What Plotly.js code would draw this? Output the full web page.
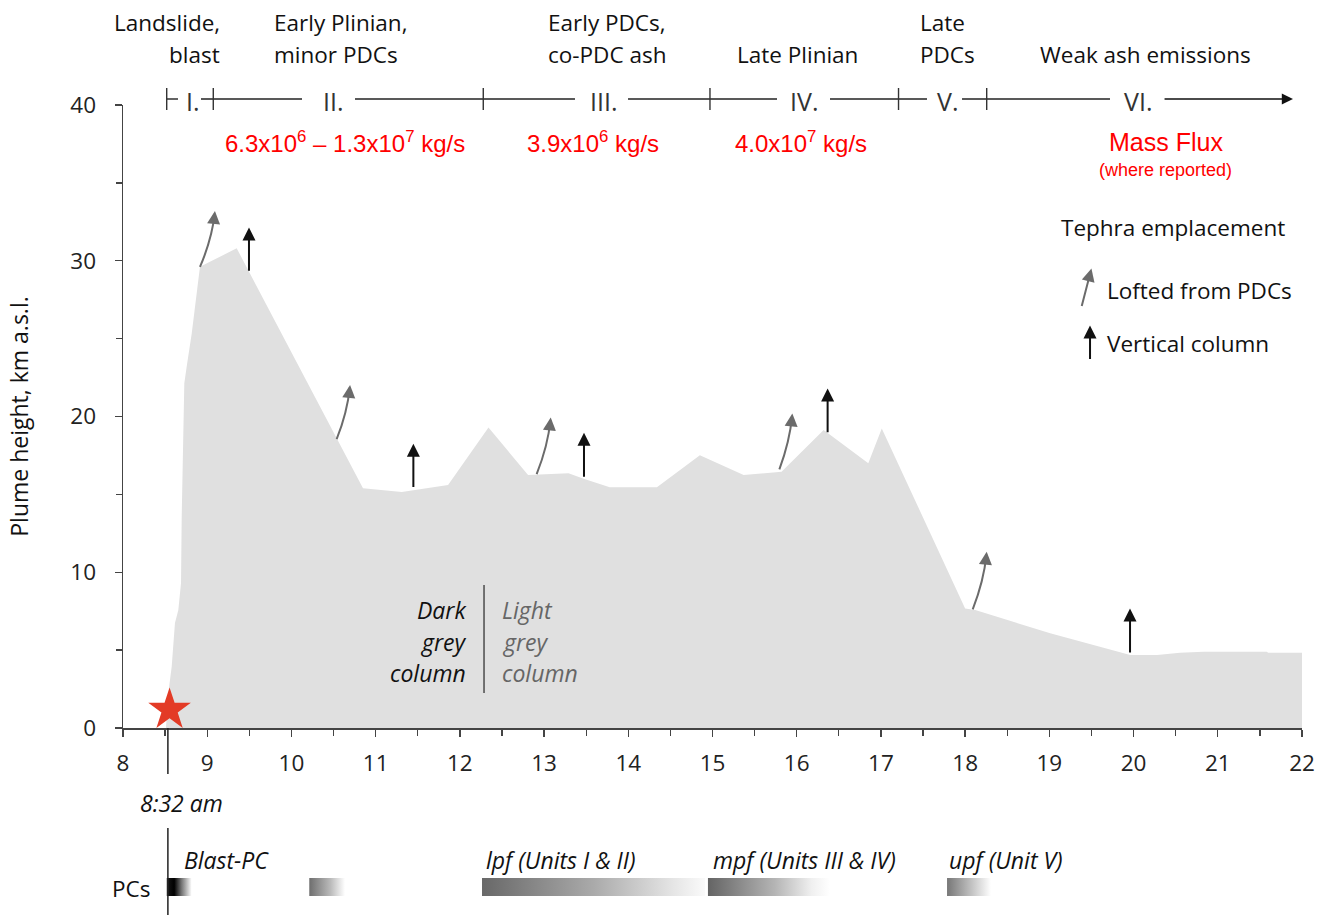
<!DOCTYPE html>
<html><head><meta charset="utf-8">
<script src="https://cdn.plot.ly/plotly-3.0.1.min.js"></script>
<style>body{margin:0;background:#fff}#chart{width:1325px;height:915px}</style>
</head><body><div id="chart"></div>
<script>
// ---- plume height profile (hours of day, km a.s.l.) ----
const profileHours   = [8.51, 8.538, 8.578, 8.617, 8.657, 8.689, 8.697, 8.716, 8.728, 8.756, 8.816, 8.914, 9.35, 10.85, 11.31, 11.86, 12.34, 12.81, 13.29, 13.47, 13.78, 14.34, 14.85, 15.37, 15.82, 16.32, 16.85, 17.01, 18.00, 18.12, 19.01, 19.96, 20.28, 20.55, 20.83, 21.58, 21.60, 22.00];
const profileHeights = [0.0, 2.25, 3.93, 6.74, 7.57, 9.31, 13.56, 17.84, 22.14, 23.19, 25.33, 29.61, 30.8, 15.4, 15.15, 15.6, 19.3, 16.24, 16.35, 16.0, 15.45, 15.45, 17.52, 16.24, 16.45, 19.13, 17.0, 19.23, 7.68, 7.57, 6.08, 4.69, 4.69, 4.83, 4.9, 4.9, 4.83, 4.83];
const ventHour = 8.533;          // 8:32 am
const ventMarkerHeight = 1.17;

// ---- axes ----
const xTickValues = [8,9,10,11,12,13,14,15,16,17,18,19,20,21,22];
const yTickValues = [0,10,20,30,40];

// ---- eruption phases ----
const phaseBoundaryHours = [8.519, 9.072, 12.278, 14.970, 17.209, 18.256];
const phaseNumerals      = ['I.', 'II.', 'III.', 'IV.', 'V.', 'VI.'];
const phaseNumeralHours  = [8.837, 10.494, 13.712, 16.087, 17.785, 20.053];
const phaseSegStart      = [8.519, 8.926, 10.755, 13.997, 16.395, 17.963];
const phaseSegEnd        = [8.653, 10.126, 13.367, 15.766, 17.547, 19.720];
const phaseArrowStart = 20.350, phaseArrowEnd = 21.893;
const phaseTitleLine1 = ['Landslide,', 'Early Plinian,', 'Early PDCs,', '', 'Late', ''];
const phaseTitleLine2 = ['blast', 'minor PDCs', 'co-PDC ash', 'Late Plinian', 'PDCs', 'Weak ash emissions'];
const phaseTitleHours = [9.176, 9.769, 13.023, 16.015, 17.440, 20.136];
const phaseTitleAnchor = ['right', 'left', 'left', 'center', 'left', 'center'];

// ---- mass flux ----
const massFluxLabels = ['6.3x10<sup>6</sup> – 1.3x10<sup>7</sup> kg/s', '3.9x10<sup>6</sup> kg/s', '4.0x10<sup>7</sup> kg/s'];
const massFluxHours  = [10.636, 13.581, 16.051];
const massFluxHeight = 37.6;

// ---- tephra emplacement arrows ----
const loftedBaseHours   = [8.914, 10.537, 12.912, 15.794, 18.090];
const loftedBaseHeights = [29.6, 18.54, 16.3, 16.6, 7.62];
const loftedTipHours    = [9.092, 10.696, 13.079, 15.948, 18.256];
const loftedTipHeights  = [33.2, 22.03, 19.94, 20.2, 11.32];
const columnHours       = [9.496, 11.448, 13.474, 16.367, 19.958];
const columnBaseHeights = [29.26, 15.38, 16.03, 18.9, 4.75];
const columnTipHeights  = [32.13, 18.25, 18.96, 21.8, 7.68];

// ---- pyroclastic currents (PCs) ----
const pcLabels      = ['Blast-PC', '', 'lpf (Units I & II)', 'mpf (Units III & IV)', 'upf (Unit V)'];
const pcLabelHours  = [8.70, 10.21, 12.287, 14.98, 17.785];
const pcStartHours  = [8.519, 10.212, 12.263, 14.946, 17.785];
const pcEndHours    = [8.816, 10.636, 14.911, 16.395, 18.307];
const pcScales = [
  [[0,'#444'],[0.08,'#111'],[0.3,'#000'],[0.6,'#777'],[1,'#fff']],
  [[0,'#6e6e6e'],[0.6,'#bbb'],[1,'#fff']],
  [[0,'#686868'],[0.5,'#aaa'],[0.85,'#e4e4e4'],[1,'#fafafa']],
  [[0,'#646464'],[0.55,'#b5b5b5'],[0.85,'#f0f0f0'],[1,'#fff']],
  [[0,'#777'],[0.6,'#c8c8c8'],[1,'#fff']]
];

// ---------------- build ----------------
const H = 915;
const py = p => (H - p) / H;     // layout helper: paper fraction from pixel row
const mainDomain = [187 / H, 810 / H];
const FONT = 'Open Sans, Liberation Sans, sans-serif';
const RED = 'Liberation Sans, Arial, sans-serif';
const TXT = 22.5, ITX = 23;
const GREY_ARROW = '#6b6b6b', BLACK_ARROW = '#111';

const traces = [];
traces.push({
  type: 'scatter', x: profileHours, y: profileHeights, mode: 'lines',
  line: {width: 0, color: '#e0e0e0'}, fill: 'tozeroy', fillcolor: '#e0e0e0', hoverinfo: 'skip'
});
traces.push({
  type: 'scatter', x: [ventHour + 0.02], y: [ventMarkerHeight], mode: 'markers', cliponaxis: false,
  marker: {symbol: 'star', size: 32, color: '#e33b26', line: {width: 0}}, hoverinfo: 'skip'
});
const barY0 = 0.1016, barY1 = 0.1979;
for (let i = 0; i < pcStartHours.length; i++) {
  const a = pcStartHours[i], b = pcEndHours[i];
  traces.push({
    type: 'scatter', xaxis: 'x', yaxis: 'y2',
    x: [a, b, b, a, a], y: [barY0, barY0, barY1, barY1, barY0],
    mode: 'lines', line: {width: 0}, fill: 'toself',
    fillgradient: {type: 'horizontal', colorscale: pcScales[i]}, hoverinfo: 'skip'
  });
}

const shapes = [];
const annotations = [];

function arrowAnno(x0, y0, x1, y1, color) {
  return {xref: 'x', yref: 'y', x: x1, y: y1, ax: x0, ay: y0, axref: 'x', ayref: 'y', text: '',
    showarrow: true, arrowhead: 2, arrowsize: 1.3, arrowwidth: 2, arrowcolor: color, standoff: 0};
}

// lofted (curved, grey) arrows
for (let i = 0; i < loftedBaseHours.length; i++) {
  const x0 = loftedBaseHours[i], y0 = loftedBaseHeights[i], x1 = loftedTipHours[i], y1 = loftedTipHeights[i];
  const cx = x0 + 0.8 * (x1 - x0), cy = y0 + 0.5 * (y1 - y0);
  shapes.push({type: 'path', xref: 'x', yref: 'y', layer: 'above', path: `M ${x0},${y0} Q ${cx},${cy} ${x1 - 0.1 * (x1 - cx)},${y1 - 0.1 * (y1 - cy)}`, line: {color: GREY_ARROW, width: 2}});
  annotations.push(arrowAnno(x1 - 0.35 * (x1 - cx), y1 - 0.35 * (y1 - cy), x1, y1, GREY_ARROW));
}
// vertical column (black) arrows
for (let i = 0; i < columnHours.length; i++) {
  annotations.push(arrowAnno(columnHours[i], columnBaseHeights[i], columnHours[i], columnTipHeights[i], BLACK_ARROW));
}
// legend arrows
annotations.push(arrowAnno(19.38, 27.0, 19.50, 29.5, GREY_ARROW));
annotations.push(arrowAnno(19.483, 23.6, 19.483, 25.85, BLACK_ARROW));

// phase bar
const barP = py(99);
for (let i = 0; i < phaseSegStart.length; i++) {
  shapes.push({type: 'line', xref: 'x', yref: 'paper', x0: phaseSegStart[i], x1: phaseSegEnd[i], y0: barP, y1: barP, line: {color: '#222', width: 1.4}});
}
phaseBoundaryHours.forEach(h => shapes.push({type: 'line', xref: 'x', yref: 'paper', x0: h, x1: h, y0: py(88), y1: py(110), line: {color: '#333', width: 1.4}}));
annotations.push({xref: 'x', yref: 'paper', x: phaseArrowEnd, y: barP, ax: phaseArrowStart, axref: 'x', ay: 0, ayref: 'pixel', text: '', showarrow: true, arrowhead: 2, arrowsize: 1.6, arrowwidth: 1.4, arrowcolor: '#111', standoff: 0});
phaseNumerals.forEach((t, i) => annotations.push({xref: 'x', yref: 'paper', x: phaseNumeralHours[i], y: py(101), text: t, showarrow: false, xanchor: 'center', yanchor: 'middle', font: {family: FONT, size: 25, color: '#333'}}));
for (let i = 0; i < phaseTitleHours.length; i++) {
  if (phaseTitleLine1[i]) annotations.push({xref: 'x', yref: 'paper', x: phaseTitleHours[i], y: py(23), text: phaseTitleLine1[i], showarrow: false, xanchor: phaseTitleAnchor[i], yanchor: 'middle', font: {family: FONT, size: TXT, color: '#111'}});
  annotations.push({xref: 'x', yref: 'paper', x: phaseTitleHours[i], y: py(55), text: phaseTitleLine2[i], showarrow: false, xanchor: phaseTitleAnchor[i], yanchor: 'middle', font: {family: FONT, size: TXT, color: '#111'}});
}

// mass flux
massFluxLabels.forEach((t, i) => annotations.push({xref: 'x', yref: 'y', x: massFluxHours[i], y: massFluxHeight, text: t, showarrow: false, xanchor: 'center', yanchor: 'middle', font: {family: RED, size: 24, color: '#ff0000'}}));
annotations.push({xref: 'x', yref: 'y', x: 20.385, y: massFluxHeight, text: 'Mass Flux', showarrow: false, xanchor: 'center', yanchor: 'middle', font: {family: RED, size: 25, color: '#ff0000'}});
annotations.push({xref: 'x', yref: 'y', x: 20.385, y: 35.8, text: '(where reported)', showarrow: false, xanchor: 'center', yanchor: 'middle', font: {family: RED, size: 18, color: '#ff0000'}});

// tephra legend text
annotations.push({xref: 'x', yref: 'y', x: 20.468, y: 32.16, text: 'Tephra emplacement', showarrow: false, xanchor: 'center', yanchor: 'middle', font: {family: FONT, size: TXT, color: '#111'}});
annotations.push({xref: 'x', yref: 'y', x: 19.661, y: 28.1, text: 'Lofted from PDCs', showarrow: false, xanchor: 'left', yanchor: 'middle', font: {family: FONT, size: TXT, color: '#111'}});
annotations.push({xref: 'x', yref: 'y', x: 19.661, y: 24.7, text: 'Vertical column', showarrow: false, xanchor: 'left', yanchor: 'middle', font: {family: FONT, size: TXT, color: '#111'}});

// dark / light grey column note
shapes.push({type: 'line', xref: 'x', yref: 'y', x0: 12.287, x1: 12.287, y0: 2.25, y1: 9.18, line: {color: '#555', width: 1.6}});
['Dark', 'grey', 'column'].forEach((t, i) => annotations.push({xref: 'x', yref: 'y', x: 12.097, y: [7.57, 5.52, 3.53][i], text: '<i>' + t + '</i>', showarrow: false, xanchor: 'right', yanchor: 'middle', font: {family: FONT, size: ITX, color: '#111'}}));
['Light', 'grey', 'column'].forEach((t, i) => annotations.push({xref: 'x', yref: 'y', x: 12.477, y: [7.57, 5.52, 3.53][i], text: '<i>' + t + '</i>', showarrow: false, xanchor: 'left', yanchor: 'middle', font: {family: FONT, size: ITX, color: '#666'}}));

// 8:32 am marker line below the axis
shapes.push({type: 'line', xref: 'x', yref: 'paper', x0: ventHour, x1: ventHour, y0: py(728), y1: py(774), line: {color: '#222', width: 1.5}});
shapes.push({type: 'line', xref: 'x', yref: 'paper', x0: ventHour, x1: ventHour, y0: py(828), y1: 0, line: {color: '#222', width: 1.5}});
annotations.push({xref: 'x', yref: 'paper', x: 8.178, y: py(803), text: '<i>8:32 am</i>', showarrow: false, xanchor: 'left', yanchor: 'middle', font: {family: FONT, size: ITX, color: '#111'}});

// PC labels
pcLabels.forEach((t, i) => { if (t) annotations.push({xref: 'x', yref: 'paper', x: pcLabelHours[i], y: py(860), text: '<i>' + t + '</i>', showarrow: false, xanchor: 'left', yanchor: 'middle', font: {family: FONT, size: ITX, color: '#111'}}); });
annotations.push({xref: 'x', yref: 'paper', x: 8.344, y: py(888), text: 'PCs', showarrow: false, xanchor: 'right', yanchor: 'middle', font: {family: FONT, size: TXT, color: '#111'}});

const axisColor = '#444';
const layout = {
  width: 1325, height: 915,
  margin: {l: 123, r: 23, t: 0, b: 0, pad: 0},
  paper_bgcolor: '#fff', plot_bgcolor: 'rgba(0,0,0,0)',
  showlegend: false,
  font: {family: FONT, color: '#111'},
  xaxis: {
    domain: [0, 1], anchor: 'y', range: [8, 22], tickvals: xTickValues,
    ticks: 'outside', ticklen: 7, tickwidth: 1.3, tickcolor: axisColor,
    showline: true, linecolor: axisColor, linewidth: 1.5, showgrid: false, zeroline: false,
    minor: {dtick: 0.5, tick0: 8, ticks: 'outside', ticklen: 6, tickwidth: 1.3, tickcolor: axisColor, showgrid: false},
    tickfont: {family: FONT, size: TXT, color: '#222'}, ticklabelstandoff: 7, fixedrange: true
  },
  yaxis: {
    domain: mainDomain, anchor: 'x', range: [0, 40], tickvals: yTickValues,
    ticks: 'outside', ticklen: 7, tickwidth: 1.3, tickcolor: axisColor,
    showline: true, linecolor: axisColor, linewidth: 1.5, showgrid: false, zeroline: false,
    minor: {dtick: 5, tick0: 0, ticks: 'outside', ticklen: 6, tickwidth: 1.3, tickcolor: axisColor, showgrid: false},
    tickfont: {family: FONT, size: TXT, color: '#222'}, ticklabelstandoff: 14, fixedrange: true,
    title: {text: 'Plume height, km a.s.l.', font: {family: FONT, size: 23, color: '#111'}, standoff: 35}
  },
  yaxis2: {domain: [0, mainDomain[0]], anchor: 'x', range: [0, 1], visible: false, fixedrange: true},
  shapes: shapes,
  annotations: annotations
};

Plotly.newPlot('chart', traces, layout, {displayModeBar: false, staticPlot: true});
</script>
</body></html>
